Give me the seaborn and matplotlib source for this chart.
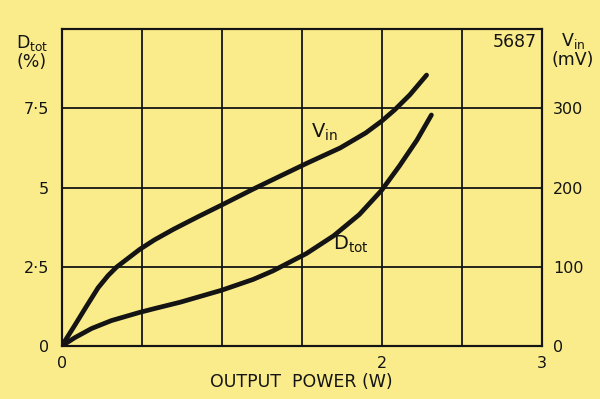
import matplotlib
matplotlib.use("Agg")
import matplotlib.pyplot as plt
import seaborn as sns
import pandas as pd

# ---- data ----
power_vin = [0.0, 0.081, 0.154, 0.227, 0.29, 0.342, 0.4875, 0.58, 0.70, 0.85, 1.0,
             1.196, 1.36, 1.53, 1.74, 1.90, 2.0, 2.08, 2.175, 2.28]
vin_mv = [0, 26, 50, 73.5, 89, 99.5, 122, 134, 147.5, 163, 178,
          198, 214, 230.5, 250, 269, 284, 298, 317, 342]

power_d = [0.0, 0.081, 0.186, 0.31, 0.4875, 0.58, 0.74, 1.0, 1.196, 1.32,
           1.53, 1.70, 1.86, 2.0, 2.11, 2.22, 2.31]
dtot_pct = [0.0, 0.26, 0.55, 0.80, 1.06, 1.18, 1.38, 1.76, 2.10, 2.37,
            2.92, 3.48, 4.15, 4.92, 5.68, 6.50, 7.29]

x_grid = [0, 0.5, 1.0, 1.5, 2.0, 2.5, 3.0]
x_labels = ["0", "", "", "", "2", "", "3"]
left_ticks = [0, 2.5, 5, 7.5, 10]
left_labels = ["0", "2·5", "5", "7·5", ""]
right_ticks = [0, 100, 200, 300, 400]
right_labels = ["0", "100", "200", "300", ""]

BG = "#FAEC8A"
INK = "#141414"

sns.set_style("white")
plt.rcParams["font.family"] = ["DejaVu Sans"]

fig = plt.figure(figsize=(6.0, 3.99), dpi=100, facecolor=BG)
ax = fig.add_axes([0.103, 0.133, 0.800, 0.794])
ax.set_facecolor(BG)
ax2 = ax.twinx()

df_d = pd.DataFrame({"P": power_d, "D": dtot_pct})
df_v = pd.DataFrame({"P": power_vin, "V": vin_mv})

sns.lineplot(data=df_d, x="P", y="D", ax=ax, color=INK, lw=3.4, sort=False,
             estimator=None, zorder=5, solid_joinstyle="round",
             solid_capstyle="round")
sns.lineplot(data=df_v, x="P", y="V", ax=ax2, color=INK, lw=3.4, sort=False,
             estimator=None, zorder=5, solid_joinstyle="round",
             solid_capstyle="round")

ax.set_xlim(0, 3)
ax.set_ylim(0, 10)
ax2.set_ylim(0, 400)

ax.set_xticks(x_grid)
ax.set_xticklabels(x_labels)
ax.set_yticks(left_ticks)
ax.set_yticklabels(left_labels)
ax2.set_yticks(right_ticks)
ax2.set_yticklabels(right_labels)

ax.grid(True, color=INK, lw=1.3)
ax2.grid(False)
ax.set_axisbelow(True)

for a in (ax, ax2):
    for s in a.spines.values():
        s.set_visible(True)
        s.set_color(INK)
        s.set_linewidth(1.5)
    a.tick_params(length=0, labelsize=11.5, colors=INK)
ax.tick_params(axis="y", pad=9)
ax.tick_params(axis="x", pad=7)
ax2.tick_params(axis="y", pad=8)

ax.set_xlabel("OUTPUT  POWER (W)", fontsize=12.5, color=INK, labelpad=2)
ax.set_ylabel("")
ax2.set_ylabel("")

# annotations
ax.text(1.64, 6.75, r"V$_{\mathregular{in}}$", fontsize=14, color=INK,
        ha="center", va="center")
ax.text(1.81, 3.2, r"D$_{\mathregular{tot}}$", fontsize=14, color=INK,
        ha="center", va="center")
ax.text(2.97, 9.6, "5687", fontsize=12.5, color=INK, ha="right", va="center")

fig.text(0.053, 0.87, "D$_{\\mathregular{tot}}$\n(%)", fontsize=12.5, color=INK,
         ha="center", va="center", linespacing=0.95)
fig.text(0.955, 0.875, "V$_{\\mathregular{in}}$\n(mV)", fontsize=12.5, color=INK,
         ha="center", va="center", linespacing=0.95)

fig.savefig("out.png", dpi=100, facecolor=BG)
